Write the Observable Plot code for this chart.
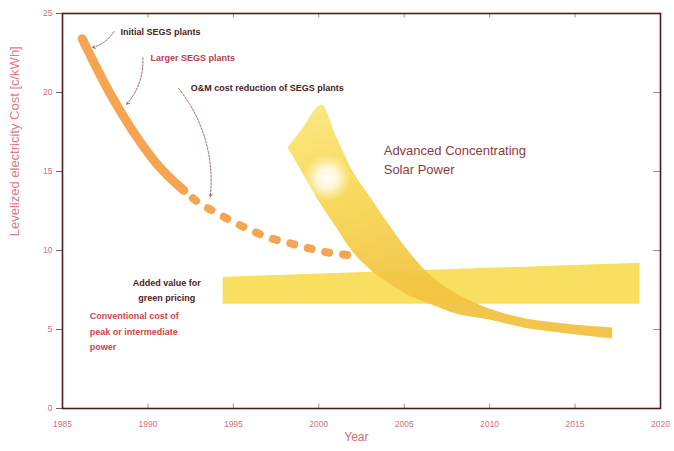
<!DOCTYPE html>
<html>
<head>
<meta charset="utf-8">
<script src="https://cdn.jsdelivr.net/npm/d3@7"></script>
<script src="https://cdn.jsdelivr.net/npm/@observablehq/plot@0.6"></script>
<style>
  body { margin: 0; background: #fff; }
  #chart svg { display: block; }
</style>
</head>
<body>
<div id="chart"></div>
<script>
// Axis ticks
const yearTicks = [1985, 1990, 1995, 2000, 2005, 2010, 2015, 2020];
const costTicks = [0, 5, 10, 15, 20, 25];

// SEGS trough plants: built history (solid) and O&M reduction (dashed)
const segsBuiltYear = [1986.15, 1986.93, 1987.6, 1988.4, 1989.4, 1990.5, 1992.1];
const segsBuiltCost = [23.4, 21.7, 20.3, 18.8, 17.1, 15.5, 13.8];
const segsOmYear = [1992.1, 1993.0, 1994.0, 1995.0, 1996.0, 1997.1, 1998.2, 1999.2, 2000.4, 2001.8];
const segsOmCost = [13.8, 13.0, 12.4, 11.8, 11.3, 10.8, 10.5, 10.2, 9.9, 9.7];

// Advanced concentrating solar power band (upper and lower edges)
const cspYear  = [1998.2, 1999, 2000.2, 2001, 2002, 2003, 2004, 2005, 2006, 2007, 2008, 2010, 2012, 2014, 2017.2];
const cspUpper = [16.5, 17.6, 19.2, 17.3, 15.0, 13.4, 11.8, 10.3, 9.0, 8.0, 7.3, 6.3, 5.7, 5.4, 5.1];
const cspLower = [16.5, 15.0, 12.8, 11.5, 9.9, 8.8, 8.0, 7.3, 6.8, 6.4, 6.0, 5.6, 5.1, 4.8, 4.4];

// Conventional peak/intermediate cost plus green-pricing premium
const greenYear  = [1994.4, 2018.8];
const greenUpper = [8.3, 9.2];
const greenLower = [6.6, 6.6];

// Annotations
const calloutLabels = [
  {text: "Initial SEGS plants", x: 1988.4, y: 23.85, color: "#4a2222"},
  {text: "Larger SEGS plants", x: 1990.15, y: 22.2, color: "#b8404a"},
  {text: "O&M cost reduction of SEGS plants", x: 1992.5, y: 20.25, color: "#4a2222"}
];
const calloutArrows = [
  {x1: 1988.0, y1: 23.85, x2: 1986.75, y2: 22.85},
  {x1: 1989.7, y1: 22.2, x2: 1988.75, y2: 19.25},
  {x1: 1991.8, y1: 20.25, x2: 1993.65, y2: 13.4}
];
const cspTitle = {lines: ["Advanced Concentrating", "Solar Power"], x: 2003.8, y: 15.8};
const greenLabel = {text: "Added value for\ngreen pricing", x: 1991.1, y: 7.6};
const conventionalLabel = {text: "Conventional cost of\npeak or intermediate\npower", x: 1986.6, y: 5.0};
const glowSpot = {x: 2000.5, y: 14.6};
const yTitle = {text: "Levelized electricity Cost [c/kWh]", y: 10.9};
const xTitle = {text: "Year", x: 2002.2};

const segsBuilt = segsBuiltYear.map((x, i) => ({x, y: segsBuiltCost[i]}));
const segsOm = segsOmYear.map((x, i) => ({x, y: segsOmCost[i]}));
const csp = cspYear.map((x, i) => ({x, y1: cspLower[i], y2: cspUpper[i]}));
const green = greenYear.map((x, i) => ({x, y1: greenLower[i], y2: greenUpper[i]}));

const font = "'Liberation Sans', Arial, sans-serif";
const orange = "#f5a552";

const svg = Plot.plot({
  width: 674,
  height: 451,
  marginLeft: 62,
  marginRight: 14,
  marginTop: 13,
  marginBottom: 43,
  style: {fontFamily: font, background: "#fff"},
  x: {domain: [1985, 2020], label: null},
  y: {domain: [0, 25], label: null},
  marks: [
    // green pricing band
    Plot.areaY(green, {x: "x", y1: "y1", y2: "y2", fill: "#f8df60"}),
    // advanced CSP band
    Plot.areaY(csp, {x: "x", y1: "y1", y2: "y2", fill: "url(#cspFill)", fillOpacity: 0.93, curve: "monotone-x"}),
    Plot.dot([glowSpot], {x: "x", y: "y", r: 24, fill: "url(#cspGlow)"}),
    // SEGS history
    Plot.line(segsBuilt, {x: "x", y: "y", stroke: orange, strokeWidth: 9, strokeLinecap: "round", curve: "monotone-x"}),
    Plot.line(segsOm, {x: "x", y: "y", stroke: orange, strokeWidth: 8, strokeLinecap: "round",
      strokeDasharray: "4,14", strokeDashoffset: 6, curve: "monotone-x"}),
    // callouts
    Plot.arrow(calloutArrows, {x1: "x1", y1: "y1", x2: "x2", y2: "y2", bend: true,
      stroke: "#8a3a3a", strokeWidth: 0.8, headLength: 6, strokeDasharray: "2,1.5"}),
    Plot.text(calloutLabels, {x: "x", y: "y", text: "text", fill: "color", textAnchor: "start",
      fontSize: 9, fontWeight: 600}),
    Plot.text([cspTitle], {x: "x", y: "y", text: d => d.lines.join("\n"), textAnchor: "start",
      lineHeight: 1.45, fontSize: 13, fill: "#8a3a44"}),
    Plot.text([greenLabel], {x: "x", y: "y", text: "text", textAnchor: "middle",
      fontSize: 9, fontWeight: 600, lineHeight: 1.75, fill: "#4a2222"}),
    Plot.text([conventionalLabel], {x: "x", y: "y", text: "text", textAnchor: "start",
      fontSize: 9, fontWeight: 600, lineHeight: 1.75, fill: "#c9454f"}),
    // inward ticks on the other three sides
    Plot.ruleX(yearTicks, {y1: 0, y2: 0.28, stroke: "#777", strokeWidth: 0.8}),
    Plot.ruleX(yearTicks.slice(1, -1), {y1: 24.72, y2: 25, stroke: "#777", strokeWidth: 0.8}),
    Plot.ruleY(costTicks.slice(1, -1), {x1: 2019.6, x2: 2020, stroke: "#777", strokeWidth: 0.8}),
    // axes
    Plot.axisX({ticks: yearTicks, tickSize: 0, tickPadding: 12, tickFormat: d => String(d),
      fontSize: 8.5, fill: "#d0707a"}),
    Plot.axisY({ticks: costTicks, tickSize: 6, tickPadding: 4, fontSize: 8.5, fill: "#d0707a", stroke: "#666"}),
    Plot.text([yTitle], {y: "y", text: "text", frameAnchor: "left", dx: -48, rotate: -90,
      fontSize: 13, fill: "#e07a82"}),
    Plot.text([xTitle], {x: "x", text: "text", frameAnchor: "bottom", dy: 32,
      fontSize: 12, fill: "#d86a72"}),
    Plot.frame({stroke: "#4b1c1c", strokeWidth: 1.6})
  ]
});

svg.insertAdjacentHTML("afterbegin", `
<defs>
  <linearGradient id="cspFill" x1="0" y1="0" x2="0.25" y2="1">
    <stop offset="0" stop-color="#fbe57c"/>
    <stop offset="0.35" stop-color="#f8d955"/>
    <stop offset="0.7" stop-color="#f3c845"/>
    <stop offset="1" stop-color="#f1c03e"/>
  </linearGradient>
  <radialGradient id="cspGlow">
    <stop offset="0" stop-color="#ffffff" stop-opacity="1"/>
    <stop offset="0.45" stop-color="#fffbe6" stop-opacity="0.85"/>
    <stop offset="1" stop-color="#fff4c0" stop-opacity="0"/>
  </radialGradient>
</defs>`);

document.getElementById("chart").appendChild(svg);
</script>
</body>
</html>
